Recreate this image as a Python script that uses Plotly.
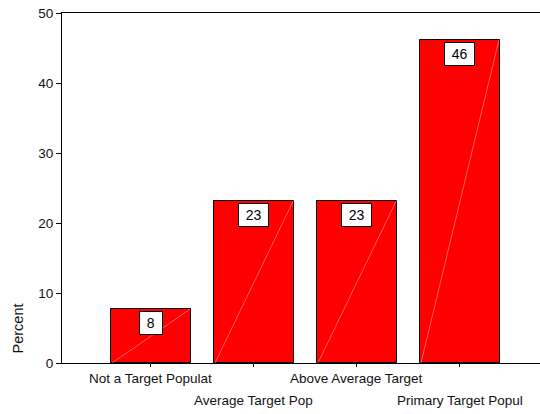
import plotly.graph_objects as go

categories = ["Not a Target Populat", "Average Target Pop", "Above Average Target", "Primary Target Popul"]
percent = [7.69, 23.08, 23.08, 46.15]
value_labels = ["8", "23", "23", "46"]
y_ticks = [0, 10, 20, 30, 40, 50]

positions = list(range(len(categories)))
bar_w = 0.777
FONT = "Arial, Liberation Sans, sans-serif"

fig = go.Figure()
fig.add_trace(go.Bar(
    x=positions, y=percent, width=bar_w,
    marker=dict(color="#ff0000", line=dict(color="black", width=1)),
    hoverinfo="skip",
))

# faint diagonal artefact from bottom-left to top-right of each bar
dx, dy = [], []
for p, v in zip(positions, percent):
    dx += [p - bar_w / 2 + 0.01, p + bar_w / 2 - 0.01, None]
    dy += [0, v, None]
fig.add_trace(go.Scatter(x=dx, y=dy, mode="lines",
                         line=dict(color="#ff9a9a", width=0.6), hoverinfo="skip"))

for p, v, t in zip(positions, percent, value_labels):
    fig.add_annotation(
        x=p, y=v, xref="x", yref="y", text=t, showarrow=False,
        yanchor="top", yshift=-2,
        font=dict(family=FONT, size=14, color="black"),
        bgcolor="white", bordercolor="black", borderwidth=1,
        width=7.7 * len(t) + 12, height=20, borderpad=1,
    )

for i, (p, c) in enumerate(zip(positions, categories)):
    fig.add_annotation(
        x=p, y=0, xref="x", yref="y", text=c, showarrow=False,
        yanchor="middle", yshift=-15 if i % 2 == 0 else -37,
        font=dict(family=FONT, size=13.5, color="#111111"),
    )

fig.add_annotation(
    x=(17.5 - 62) / 478, y=(363 - 329) / 350, xref="paper", yref="paper",
    text="Percent", showarrow=False, textangle=-90,
    xanchor="center", yanchor="middle",
    font=dict(family=FONT, size=14.5, color="#111111"),
)

fig.update_layout(
    width=540, height=414,
    margin=dict(l=62, r=0, t=13, b=51),
    paper_bgcolor="white", plot_bgcolor="white",
    showlegend=False,
    bargap=0,
    font=dict(family=FONT, color="#111111"),
)
fig.update_xaxes(
    range=[-0.864, 3.777], tickvals=positions, ticktext=[""] * len(positions),
    showline=True, linecolor="black", linewidth=1, mirror=True,
    ticks="outside", ticklen=3, tickcolor="black",
    showgrid=False, zeroline=False,
)
fig.update_yaxes(
    range=[0, 50], tickvals=y_ticks,
    showline=True, linecolor="black", linewidth=1,
    ticks="outside", ticklen=5, tickcolor="black",
    tickfont=dict(family=FONT, size=13.5, color="#111111"),
    showgrid=False, zeroline=False,
)

fig.write_html("out.html", config={"displayModeBar": False},
               post_script="document.body.style.margin='0';document.body.style.overflow='hidden';")
